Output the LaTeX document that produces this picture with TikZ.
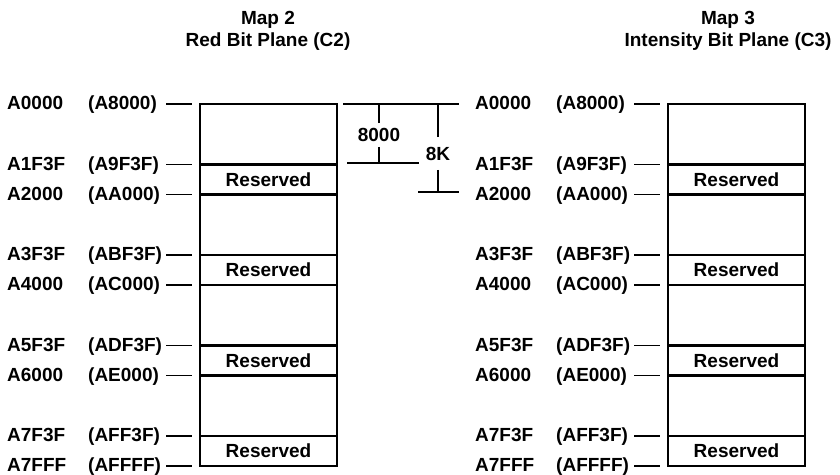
\documentclass[tikz,border=0pt]{standalone}
\usepackage{fontspec}
\setmainfont{Liberation Sans}
\usetikzlibrary{positioning}

\begin{document}
\begin{tikzpicture}[
    x=1pt, y=-1pt,
    title/.style={
        align=center,
        font=\bfseries\fontsize{19}{22}\selectfont,
        inner sep=0pt
    },
    addr/.style={
        anchor=base west,
        inner sep=0pt,
        font=\bfseries\fontsize{19}{22}\selectfont
    },
    block/.style={
        draw,
        line width=2.3pt,
        minimum width=137pt,
        minimum height=60.5pt,
        inner sep=0pt
    },
    reserved/.style={
        block,
        minimum height=30pt,
        font=\bfseries\fontsize{19}{22}\selectfont
    },
    dimlabel/.style={
        inner xsep=0pt,
        inner ysep=5pt,
        font=\bfseries\fontsize{19}{22}\selectfont
    },
    leader/.style={line width=1.4pt},
    dim/.style={line width=1.4pt}
]
\useasboundingbox (0,0) rectangle (840,474);

% TITLES
\node[title] (title2) at (268,31)
{Map 2\\Red Bit Plane (C2)};

\node[title] (title3) at (728,31)
{Map 3\\Intensity Bit Plane (C3)};

% MEMORY MAPS
\foreach \m/\dx in {2/0, 3/468} {
  \begin{scope}[xshift=\dx pt]
    \foreach \k in {0,...,3} {
      \node[block] (m\m b\k) at (268.5,{134.25+90.5*\k}) {};
      \node[reserved] (m\m r\k) at (268.5,{179.5+90.5*\k}) {Reserved};
    }
    \foreach \i/\y/\a/\h in {1/104/A0000/A8000, 2/164.5/A1F3F/A9F3F,
        3/194.5/A2000/AA000, 4/255/A3F3F/ABF3F, 5/285/A4000/AC000,
        6/345.5/A5F3F/ADF3F, 7/375.5/A6000/AE000, 8/436/A7F3F/AFF3F,
        9/466/A7FFF/AFFFF} {
      \node[addr] (m\m a\i) at (7,\y+5.5) {\a};
      \node[addr] (m\m h\i) at (88,\y+5.5) {(\h)};
      \draw[leader] (166,\y) -- (192,\y);
    }
  \end{scope}
}

% SIZE MARKS
\coordinate (dtopL) at (343,104);
\coordinate (dtopR) at (459,104);
\coordinate (dmidL) at (347,163);
\coordinate (dmidR) at (419,163);
\coordinate (dbotL) at (418,192);
\coordinate (dbotR) at (459,192);

\node[dimlabel] (size8000) at (379,135) {8000};
\node[dimlabel, inner ysep=9.5pt] (size8k) at (438,153.5) {8K};

\draw[dim] (dtopL) -- (dtopR);
\draw[dim] (dmidL) -- (dmidR);
\draw[dim] (dbotL) -- (dbotR);
\draw[dim] (size8000.north) -- (size8000.north |- dtopL);
\draw[dim] (size8000.south) -- (size8000.south |- dmidL);
\draw[dim] (size8k.north) -- (size8k.north |- dtopL);
\draw[dim] (size8k.south) -- (size8k.south |- dbotL);

\end{tikzpicture}
\end{document}
